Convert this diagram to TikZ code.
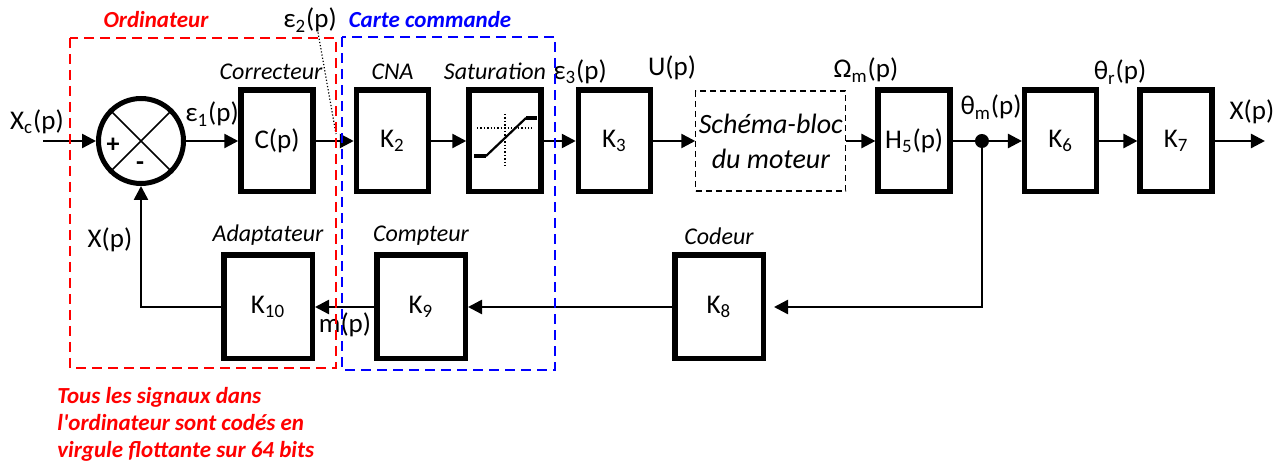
\documentclass[tikz,border=0pt]{standalone}
\usepackage{fontspec}
\setmainfont{Carlito}
\usetikzlibrary{arrows.meta,positioning,calc}
\newcommand{\SigFont}{\fontsize{13.5}{16}\selectfont}
\newcommand{\NameFont}{\fontsize{12}{14}\selectfont\itshape}
\newcommand{\ZoneFont}{\fontsize{11.5}{13.5}\selectfont\bfseries\itshape}
\definecolor{OrdiDraw}{RGB}{255,0,0}
\definecolor{CarteDraw}{RGB}{0,0,255}
\tikzset{
  every node/.style={align=center},
  %% base block
  blk/.style={
    draw=black,
    line width=2.75pt,
    minimum width=36pt,
    minimum height=50.75pt,
    inner sep=0pt,
    font=\SigFont,
  },
  %% feedback blocks
  fbBlk/.style={
    blk,
    minimum width=44.25pt,
    minimum height=51.75pt,
  },
  %% motor sub-diagram
  motBlk/.style={
    draw=black,
    dashed,
    dash pattern=on 3pt off 2pt,
    line width=0.6pt,
    minimum width=75pt,
    minimum height=50pt,
    inner sep=0pt,
    font=\fontsize{14}{17.5}\selectfont\itshape,
  },
  sumBlk/.style={
    circle,
    draw=black,
    line width=2.5pt,
    minimum size=42.5pt,
    inner sep=0pt,
  },
  dotBlk/.style={
    circle,
    fill=black,
    minimum size=7pt,
    inner sep=0pt,
  },
  %% arrows
  arr/.style={
    -{Triangle[length=7pt,width=7pt]},
    line width=1.25pt,
  },
  ln/.style={
    line width=1.25pt,
  },
  %% labels
  sig/.style={
    font=\SigFont,
    inner sep=0pt,
  },
  blkName/.style={
    font=\NameFont,
    inner sep=0pt,
  },
  zone/.style={
    dashed,
    dash pattern=on 5pt off 3pt,
    line width=1pt,
  },
}

\begin{document}
\begin{tikzpicture}[x=0.5pt, y=-0.5pt]
\useasboundingbox (0,0) rectangle (1280,464);

%%═══════════════════════════════ DIRECT CHAIN ═══════════════════════════════

\coordinate (XC) at (43,141);
\node[sumBlk] (SUM) at (141,141) {};
\node[blk] (C) at (277,141) {C(p)};
\node[blk, right=19pt of C] (K2) {K\textsubscript{2}};
\node[blk, right=17.5pt of K2] (SAT) {};
\node[blk, right=16pt of SAT] (K3) {K\textsubscript{3}};
\node[motBlk, right=21pt of K3] (MOT) {Schéma-bloc\\du moteur};
\node[blk, right=14.5pt of MOT] (H5) {H\textsubscript{5}(p)};
\node[blk, right=34.5pt of H5] (K6) {K\textsubscript{6}};
\node[blk, right=19pt of K6] (K7) {K\textsubscript{7}};
\node[dotBlk] (J) at ([xshift=14.5pt]H5.east) {};
\coordinate (XOUT) at ([xshift=25pt]K7.east);

%% ── Summing point ──────────────────────────────────────────────────────────
\draw[line width=0.8pt] (SUM.north west) -- (SUM.south east);
\draw[line width=0.8pt] (SUM.north east) -- (SUM.south west);
\node[font=\fontsize{13}{15}\selectfont\bfseries] (PLUS)  at ([xshift=-14pt, yshift=-2pt]SUM.center) {+};
\node[font=\fontsize{13}{15}\selectfont\bfseries] (MINUS) at ([xshift=-0.5pt, yshift=-12.5pt]SUM.center) {-};

%% ── Saturation curve ───────────────────────────────────────────────────────
\begin{scope}[shift={(SAT.center)}]
  \draw[densely dotted, line width=0.7pt] (-28,-13) -- (27,-13);
  \draw[densely dotted, line width=0.7pt] (0,-27) -- (0,27);
  \draw[line width=1.1pt] (-19,15) -- (21,-23);
  \draw[line width=2pt] (-31,15) -- (-19,15);
  \draw[line width=2pt] (21,-23) -- (32,-23);
\end{scope}

%% ── Forward arrows ─────────────────────────────────────────────────────────
\draw[arr] (XC)   -- (SUM);
\draw[arr] (SUM)  -- (C);
\draw[arr] (C)    -- (K2);
\draw[arr] (K2)   -- (SAT);
\draw[arr] (SAT)  -- (K3);
\draw[arr] (K3)   -- (MOT);
\draw[arr] (MOT)  -- (H5);
\draw[ln]  (H5)   -- (J);
\draw[arr] (J)    -- (K6);
\draw[arr] (K6)   -- (K7);
\draw[arr] (K7)   -- (XOUT);

%%═══════════════════════════════ FEEDBACK ═══════════════════════════════════

\node[fbBlk] (K8) at (719,307) {K\textsubscript{8}};
\node[fbBlk, left=102pt of K8] (K9) {K\textsubscript{9}};
\node[fbBlk, left=29.5pt of K9] (K10) {K\textsubscript{10}};

\draw[arr, shorten >=4pt] (J) |- (K8.east);
\draw[arr] (K8)  -- (K9);
\draw[arr] (K9)  -- (K10);
\draw[arr] (K10.west) -| (SUM.south);

%% ── Block names ────────────────────────────────────────────────────────────
\node[blkName, above=3.5pt of C, xshift=-3pt]   (nC)   {Correcteur};
\node[blkName, above=3.5pt of K2]  (nK2)  {CNA};
\node[blkName, above=3.5pt of SAT, xshift=-5pt] (nSAT) {Saturation};
\node[blkName, above=3.5pt of K8]  (nK8)  {Codeur};
\node[blkName, above=3.5pt of K9]  (nK9)  {Compteur};
\node[blkName, above=3.5pt of K10] (nK10) {Adaptateur};

%% ── Signal names ───────────────────────────────────────────────────────────
\node[sig] (sXC)  at (37,122)   {X\textsubscript{c}(p)};
\node[sig] (sE1)  at (212,114)  {ε\textsubscript{1}(p)};
\node[sig] (sE2)  at (310,20)   {ε\textsubscript{2}(p)};
\node[sig] (sE3)  at (580,72)   {ε\textsubscript{3}(p)};
\node[sig] (sU)   at (672,68)   {U(p)};
\node[sig] (sOM)  at (866,70)   {Ω\textsubscript{m}(p)};
\node[sig] (sTM)  at (991,107)  {θ\textsubscript{m}(p)};
\node[sig] (sTR)  at (1120,72)  {θ\textsubscript{r}(p)};
\node[sig] (sX)   at (1252,112) {X(p)};
\node[sig] (sXF)  at (110,240)  {X(p)};
\node[sig] (sM)   at (345,325)  {m(p)};

\coordinate (E2end) at (336,134);
\draw[densely dotted, line width=0.6pt] ([xshift=4pt]sE2.south) -- (E2end);

%%═══════════════════════════════ ZONES ══════════════════════════════════════

\draw[zone, OrdiDraw]  (70,38)  rectangle (336,368);
\draw[zone, CarteDraw] (342,37) rectangle (555,370);
\node[font=\ZoneFont, text=OrdiDraw,  inner sep=0pt] (zOrdi)  at (156,20) {Ordinateur};
\node[font=\ZoneFont, text=CarteDraw, inner sep=0pt] (zCarte) at (430,20) {Carte commande};

\node[font=\ZoneFont, text=OrdiDraw, align=left, anchor=north west, inner sep=0pt]
  (NOTE) at (57,387) {%
    Tous les signaux dans\\
    l\textquotesingle ordinateur sont codés en\\
    virgule flottante sur 64 bits};

\end{tikzpicture}
\end{document}
